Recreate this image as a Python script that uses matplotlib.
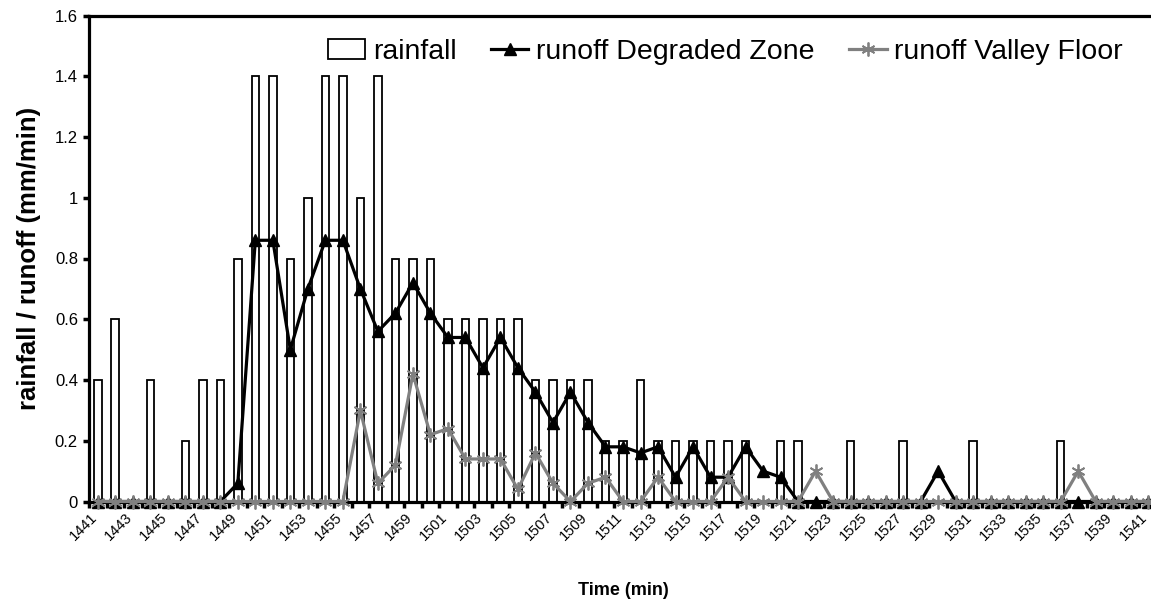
import numpy as np
import matplotlib
matplotlib.use("Agg")
import matplotlib.pyplot as plt
import matplotlib.transforms as mtransforms

plt.rcParams['font.family'] = ['Liberation Sans', 'DejaVu Sans']

# Time of day (hhmm), one category per minute
times = [1441, 1442, 1443, 1444, 1445, 1446, 1447, 1448, 1449, 1450,
         1451, 1452, 1453, 1454, 1455, 1456, 1457, 1458, 1459, 1500,
         1501, 1502, 1503, 1504, 1505, 1506, 1507, 1508, 1509, 1510,
         1511, 1512, 1513, 1514, 1515, 1516, 1517, 1518, 1519, 1520,
         1521, 1522, 1523, 1524, 1525, 1526, 1527, 1528, 1529, 1530,
         1531, 1532, 1533, 1534, 1535, 1536, 1537, 1538, 1539, 1540,
         1541]

rainfall = [0.4, 0.6, 0, 0.4, 0, 0.2, 0.4, 0.4, 0.8, 1.4,
            1.4, 0.8, 1.0, 1.4, 1.4, 1.0, 1.4, 0.8, 0.8, 0.8,
            0.6, 0.6, 0.6, 0.6, 0.6, 0.4, 0.4, 0.4, 0.4, 0.2,
            0.2, 0.4, 0.2, 0.2, 0.2, 0.2, 0.2, 0.2, 0, 0.2,
            0.2, 0, 0, 0.2, 0, 0, 0.2, 0, 0, 0,
            0.2, 0, 0, 0, 0, 0.2, 0, 0, 0, 0,
            0]

runoff_degraded = [0, 0, 0, 0, 0, 0, 0, 0, 0.06, 0.86,
                   0.86, 0.5, 0.7, 0.86, 0.86, 0.7, 0.56, 0.62, 0.72, 0.62,
                   0.54, 0.54, 0.44, 0.54, 0.44, 0.36, 0.26, 0.36, 0.26, 0.18,
                   0.18, 0.16, 0.18, 0.08, 0.18, 0.08, 0.08, 0.18, 0.1, 0.08,
                   0, 0, 0, 0, 0, 0, 0, 0, 0.1, 0,
                   0, 0, 0, 0, 0, 0, 0, 0, 0, 0,
                   0]

runoff_valley = [0, 0, 0, 0, 0, 0, 0, 0, 0, 0,
                 0, 0, 0, 0, 0, 0.3, 0.06, 0.12, 0.42, 0.22,
                 0.24, 0.14, 0.14, 0.14, 0.04, 0.16, 0.06, 0, 0.06, 0.08,
                 0, 0, 0.08, 0, 0, 0, 0.08, 0, 0, 0,
                 0, 0.1, 0, 0, 0, 0, 0, 0, 0, 0,
                 0, 0, 0, 0, 0, 0, 0.1, 0, 0, 0,
                 0]

x = np.arange(len(times))

fig = plt.figure(figsize=(11.51, 6.07), dpi=100)
ax = fig.add_axes([89 / 1151, 105.5 / 607, 1068 / 1151, 486 / 607])

bars = ax.bar(x, rainfall, width=0.43, color='white', edgecolor='black',
              linewidth=1.3, label='rainfall', zorder=2)
l1, = ax.plot(x, runoff_degraded, color='black', lw=2.3, marker='^', ms=8.5,
              label='runoff Degraded Zone', zorder=4, clip_on=False)
l2, = ax.plot(x, runoff_valley, color='#808080', lw=2.3, marker=(6, 2, 0), ms=10,
              mew=1.3, label='runoff Valley Floor', zorder=5, clip_on=False)

ax.set_xlim(-0.5, len(times) - 0.5)
ax.set_ylim(0, 1.6)
ax.set_yticks(np.arange(0, 1.61, 0.2))
ax.set_yticklabels(['0', '0.2', '0.4', '0.6', '0.8', '1', '1.2', '1.4', '1.6'])

ax.set_xticks(x[::2])
ax.set_xticklabels([str(t) for t in times[::2]], rotation=45, ha='right',
                   rotation_mode='anchor')
ax.set_xticks(np.arange(-0.5, len(times), 1), minor=True)
ax.tick_params(axis='x', which='major', length=0, pad=4, labelsize=10.5)
ax.tick_params(axis='x', which='minor', length=4, width=2.5, direction='out')
ax.tick_params(axis='y', length=4, width=2.5, direction='out', labelsize=12, pad=4)

# pull the slanted labels a little to the left so the last one stays in view
shift = mtransforms.ScaledTranslation(-8 / 100, -3 / 100, fig.dpi_scale_trans)
for lab in ax.get_xticklabels():
    lab.set_transform(lab.get_transform() + shift)

for s in ['left', 'top', 'bottom']:
    ax.spines[s].set_linewidth(2.3)
ax.spines['right'].set_visible(False)
ax.spines['bottom'].set_zorder(3)

ax.set_xlabel('Time (min)', fontsize=13, fontweight='bold', labelpad=28)
ax.set_ylabel('rainfall / runoff (mm/min)', fontsize=18.5, fontweight='bold', labelpad=10)

ax.legend(handles=[bars, l1, l2], loc='center right', bbox_to_anchor=(0.968, 0.925),
          ncol=3, frameon=False, fontsize=20.5, handlelength=1.3, handletextpad=0.27,
          columnspacing=1.23, borderaxespad=0, borderpad=0)

fig.savefig('out.png', dpi=100)
